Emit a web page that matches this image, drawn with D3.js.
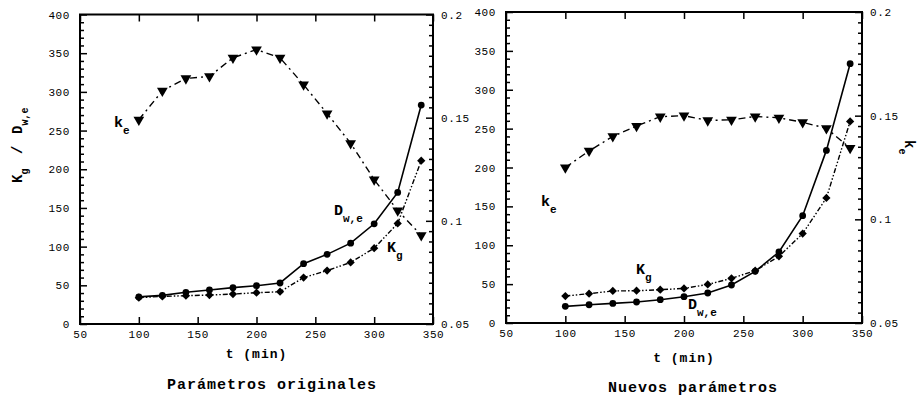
<!DOCTYPE html>
<html><head><meta charset="utf-8">
<script src="https://cdn.jsdelivr.net/npm/d3@7"></script>
<style>
body{margin:0;background:#fff;}
svg{display:block;}
text{font-family:"Liberation Mono","Courier New",monospace;fill:#000;}
</style></head>
<body><svg id="c" width="917" height="398"></svg>
<script>
const times = [100,120,140,160,180,200,220,240,260,280,300,320,340];
const xTicks = [50,100,150,200,250,300,350];
const yTicks = [0,50,100,150,200,250,300,350,400];
const keTicks = [0.05,0.1,0.15,0.2];
// Parámetros originales
const dweOrig = [35,37,41,44,47,49.5,53,78,90,104.5,129.5,170,283];
const kgOrig  = [34,35.7,36.6,37.4,38.7,40.4,41.7,60,69,79.6,98,130,211];
const keOrig  = [0.149,0.163,0.169,0.170,0.179,0.183,0.179,0.166,0.152,0.1376,0.120,0.105,0.093];
// Nuevos parámetros
const dweNew = [21.4,23.5,25.2,27,30,33.8,38.6,48.9,66.4,91.3,138,222,333.5];
const kgNew  = [34.7,37.7,41.2,41.5,42.8,44.5,49.6,57.4,67.3,85.7,115,160.8,259.3];
const keNew  = [0.125,0.133,0.140,0.145,0.1495,0.150,0.1477,0.148,0.1496,0.149,0.1468,0.1439,0.1344];

const svg = d3.select("#c");

function subText(g, transform, main, sub, size, subSize, dy){
  const t = g.append("text").attr("transform",transform)
    .style("font-weight","bold").style("font-size",size+"px");
  t.append("tspan").text(main);
  t.append("tspan").attr("dy",dy).style("font-size",subSize+"px").text(sub);
  return t;
}

function panel(p){
  const x = d3.scaleLinear([50,350],[p.x0,p.x1]);
  const y = d3.scaleLinear([0,400],[p.y0,p.y1]);
  const yr = d3.scaleLinear([0.05,0.2],[p.y0,p.y1]);
  const g = svg.append("g");
  const minorY = d3.range(0,401,10).filter(v=>v%50!==0);
  const minorK = d3.range(0,31).map(i=>0.05+i*0.005).filter((v,i)=>i%10!==0);

  const styleAxis = a => {
    a.selectAll("text").style("font-size","11px").style("letter-spacing","0.6px");
    a.selectAll("line").attr("stroke","#000").attr("stroke-width",1.5);
    a.select(".domain").remove();
  };
  g.append("g").attr("transform",`translate(${p.x0},0)`)
    .call(d3.axisLeft(y).tickValues(yTicks).tickSize(-7).tickPadding(10).tickFormat(d3.format("d"))).call(styleAxis);
  g.append("g").attr("transform",`translate(${p.x0},0)`)
    .call(d3.axisLeft(y).tickValues(minorY).tickSize(-4).tickFormat("")).call(styleAxis);
  g.append("g").attr("transform",`translate(${p.x1},0)`)
    .call(d3.axisRight(yr).tickValues(keTicks).tickSize(-7).tickPadding(8).tickFormat(d=>String(+d.toFixed(2)))).call(styleAxis);
  g.append("g").attr("transform",`translate(${p.x1},0)`)
    .call(d3.axisRight(yr).tickValues(minorK).tickSize(-4).tickFormat("")).call(styleAxis);
  g.append("g").attr("transform",`translate(0,${p.y0})`)
    .call(d3.axisBottom(x).tickValues(xTicks).tickSize(-7).tickPadding(6).tickFormat(d3.format("d"))).call(styleAxis);
  g.append("g").attr("transform",`translate(0,${p.y1})`)
    .call(d3.axisTop(x).tickValues(xTicks).tickSize(-7).tickFormat("")).call(styleAxis);
  g.append("rect").attr("x",p.x0).attr("y",p.y1).attr("width",p.x1-p.x0).attr("height",p.y0-p.y1)
    .attr("fill","none").attr("stroke","#000").attr("stroke-width",2);

  const line = d3.line().x(d=>x(d[0])).y(d=>d[1]);
  const ser = (vals, sc) => times.map((t,i)=>[t, sc(vals[i])]);
  const dwe = ser(p.dwe,y), kg = ser(p.kg,y), ke = ser(p.ke,yr);

  g.append("path").attr("d",line(ke)).attr("fill","none").attr("stroke","#000")
    .attr("stroke-width",1.4).attr("stroke-dasharray","7,4,2,4");
  g.append("path").attr("d",line(kg)).attr("fill","none").attr("stroke","#000")
    .attr("stroke-width",1.4).attr("stroke-dasharray","5,2,1.5,2,1.5,2");
  g.append("path").attr("d",line(dwe)).attr("fill","none").attr("stroke","#000")
    .attr("stroke-width",1.6);

  g.selectAll(null).data(dwe).join("circle").attr("cx",d=>x(d[0])).attr("cy",d=>d[1]).attr("r",3.4).attr("fill","#000");
  g.selectAll(null).data(kg).join("path")
    .attr("transform",d=>`translate(${x(d[0])},${d[1]}) rotate(45)`)
    .attr("d",d3.symbol(d3.symbolSquare,34)).attr("fill","#000");
  g.selectAll(null).data(ke).join("path")
    .attr("transform",d=>`translate(${x(d[0])},${d[1]}) rotate(180)`)
    .attr("d",d3.symbol(d3.symbolTriangle,50)).attr("fill","#000");

  g.append("text").attr("x",(p.x0+p.x1)/2).attr("y",p.xLabY).attr("text-anchor","middle")
    .style("font-weight","bold").style("font-size","13px").style("letter-spacing","1px").text("t (min)");
  g.append("text").attr("x",p.titleX).attr("y",p.titleY).attr("text-anchor","middle")
    .style("font-weight","bold").style("font-size","15px").style("letter-spacing","1px").text(p.title);
  p.labels.forEach(l=>subText(g,`translate(${l.x},${l.y})`,l.m,l.s,15,11,7));
  return g;
}

panel({x0:80,x1:433,y0:324,y1:14.5,dwe:dweOrig,kg:kgOrig,ke:keOrig,
  xLabY:358,titleX:272,titleY:389,title:"Parámetros originales",
  labels:[{x:114,y:127,m:"k",s:"e"},{x:334,y:215,m:"D",s:"w,e"},{x:387,y:252,m:"K",s:"g"}]});
panel({x0:506,x1:862,y0:323,y1:12,dwe:dweNew,kg:kgNew,ke:keNew,
  xLabY:362,titleX:693,titleY:392,title:"Nuevos parámetros",
  labels:[{x:541,y:206,m:"k",s:"e"},{x:636,y:274,m:"K",s:"g"},{x:688,y:309,m:"D",s:"w,e"}]});

// left y-axis title (rotated)
subText(svg,"translate(22,183) rotate(-90)","K","g",14,10,6);
svg.append("text").attr("transform","translate(22,154) rotate(-90)")
  .style("font-weight","bold").style("font-size","14px").text("/");
subText(svg,"translate(22,134) rotate(-90)","D","w,e",14,10,6);
// right k_e title rotated clockwise
subText(svg,"translate(905,140) rotate(90)","k","e",14,10,6);
</script></body></html>
